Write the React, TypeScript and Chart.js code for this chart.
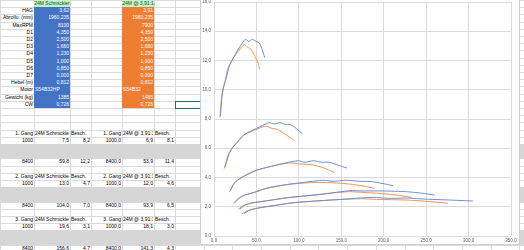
import React, { useEffect, useRef } from "react";
import { Chart, registerables } from "chart.js";

Chart.register(...registerables);

// ---------- chart data (speed km/h vs. acceleration) ----------
const blueG1Speed = [7.5, 9.4, 11.0, 14.0, 18.0, 22.0, 30.0, 37.0, 41.0, 45.0, 50.0, 53.5, 56.5, 59.8];
const blueG1Accel = [8.2, 9.5, 10.1, 10.7, 11.6, 12.1, 12.9, 13.45, 13.3, 13.45, 13.3, 13.2, 12.8, 12.2];
const orangeG1Speed = [6.9, 8.7, 10.2, 13.0, 16.6, 20.3, 28.0, 35.7, 39.7, 43.2, 48.3, 52.2, 53.9];
const orangeG1Accel = [8.1, 9.4, 10.0, 10.6, 11.5, 11.95, 12.6, 13.1, 12.9, 12.8, 12.25, 11.8, 11.4];

const blueG2Speed = [13.0, 15.5, 18.0, 22.7, 30.6, 36.5, 50.2, 64.8, 70.7, 77.7, 83.6, 90.3, 97.0, 104.0];
const blueG2Accel = [4.7, 5.2, 5.65, 6.1, 6.6, 6.97, 7.36, 7.75, 7.66, 7.75, 7.64, 7.61, 7.35, 7.0];
const orangeG2Speed = [12.0, 14.3, 16.6, 21.0, 28.3, 33.7, 46.4, 60.8, 67.8, 74.5, 85.5, 94.2];
const orangeG2Accel = [4.6, 5.1, 5.55, 6.0, 6.5, 6.85, 7.2, 7.52, 7.36, 7.3, 6.9, 6.55];

const blueG3Speed = [19.6, 22.5, 25.9, 34.5, 50.2, 69.8, 85.0, 99.3, 107.0, 117.0, 126.7, 136.5, 146.0, 156.6];
const blueG3Accel = [3.1, 3.45, 3.72, 4.06, 4.5, 4.8, 5.0, 5.15, 5.04, 5.15, 5.04, 5.04, 4.85, 4.65];
const orangeG3Speed = [18.1, 20.8, 24.0, 32.0, 46.5, 64.5, 78.5, 89.4, 101.0, 115.0, 128.6, 141.3];
const orangeG3Accel = [3.0, 3.35, 3.65, 4.0, 4.43, 4.72, 4.9, 5.0, 4.92, 4.88, 4.67, 4.35];

const blueG4Speed = [24.7, 30.0, 36.5, 50.2, 63.9, 89.4, 109.0, 128.6, 140.4, 156.0, 171.8, 185.5, 198.0, 211.0];
const blueG4Accel = [2.28, 2.6, 2.8, 3.03, 3.3, 3.55, 3.69, 3.81, 3.74, 3.81, 3.74, 3.72, 3.6, 3.44];
const orangeG4Speed = [22.8, 28.0, 33.7, 46.4, 59.0, 82.6, 100.8, 118.8, 140.0, 160.0, 175.6, 189.4];
const orangeG4Accel = [2.22, 2.55, 2.75, 2.97, 3.22, 3.48, 3.6, 3.66, 3.64, 3.55, 3.42, 3.26];

const blueG5Speed = [30.6, 36.0, 42.4, 62.0, 89.4, 128.6, 160.0, 175.6, 199.0, 226.7, 246.0, 260.0];
const blueG5Accel = [1.85, 2.08, 2.24, 2.41, 2.64, 2.87, 3.1, 3.08, 3.08, 3.03, 2.92, 2.8];
const orangeG5Speed = [28.2, 33.0, 39.0, 57.0, 82.4, 118.5, 147.0, 160.0, 191.6, 215.0, 232.6];
const orangeG5Accel = [1.8, 2.03, 2.19, 2.36, 2.58, 2.8, 2.98, 3.03, 2.92, 2.8, 2.64];

const blueG6Speed = [35.3, 42.0, 50.2, 69.8, 97.3, 148.0, 187.4, 207.0, 226.0, 246.0, 277.6, 305.0];
const blueG6Accel = [1.55, 1.75, 1.89, 2.07, 2.3, 2.5, 2.64, 2.57, 2.6, 2.53, 2.46, 2.39];
const orangeG6Speed = [32.5, 39.0, 46.3, 64.3, 89.6, 136.0, 172.5, 191.6, 226.7, 254.0, 275.8];
const orangeG6Accel = [1.5, 1.72, 1.85, 2.03, 2.25, 2.45, 2.55, 2.5, 2.46, 2.35, 2.24];

const blueSeries = [
  [blueG1Speed, blueG1Accel], [blueG2Speed, blueG2Accel], [blueG3Speed, blueG3Accel],
  [blueG4Speed, blueG4Accel], [blueG5Speed, blueG5Accel], [blueG6Speed, blueG6Accel],
];
const orangeSeries = [
  [orangeG1Speed, orangeG1Accel], [orangeG2Speed, orangeG2Accel], [orangeG3Speed, orangeG3Accel],
  [orangeG4Speed, orangeG4Accel], [orangeG5Speed, orangeG5Accel], [orangeG6Speed, orangeG6Accel],
];

const xMin = 0, xMax = 350, xStep = 50;
const yMin = 0, yMax = 16, yStep = 2;

// ---------- spreadsheet text ----------
const paramLabels = ["HAG", "Abrollu. (mm)", "MaxRPM", "D1", "D2", "D3", "D4", "D5", "D6", "D7", "Hebel (m)", "Motor", "Gewicht (kg)", "CW"];
const schmicklerValues = ["3,62", "1960,235", "8100", "4,350", "2,500", "1,660", "1,230", "1,000", "0,850", "0,000", "0,812", "S54B32HP", "1385", "0,726"];
const stockValues = ["3,91", "1960,235", "7900", "4,350", "2,500", "1,660", "1,230", "1,000", "0,850", "0,000", "0,812", "S54B32", "1485", "0,726"];
const nameA = "24M Schmickler";
const nameB = "24M @ 3,91:1";
const gangLabels = ["1. Gang", "2. Gang", "3. Gang"];
const rpmLow = ["1000", "1000", "1000"];
const rpmHigh = ["8400", "8400", "8400"];
const schmicklerLowSpeed = ["7,5", "13,0", "19,6"];
const schmicklerLowAccel = ["8,2", "4,7", "3,1"];
const schmicklerHighSpeed = ["59,8", "104,0", "156,6"];
const schmicklerHighAccel = ["12,2", "7,0", "4,7"];
const stockLowSpeed = ["6,9", "12,0", "18,1"];
const stockLowAccel = ["8,1", "4,6", "3,0"];
const stockHighSpeed = ["53,9", "93,9", "141,3"];
const stockHighAccel = ["11,4", "6,5", "4,3"];

// ---------- layout ----------
const COLS = [0, 34, 70, 91, 122, 154, 175, 203.7, 232.4, 261, 289.7, 318.4, 347, 375.8, 404.5, 433, 462, 490.6, 519.3, 548];
const RH = 7.2;
const NROWS = 36;
const GRID = "#dadada";
const FONT = "'Liberation Sans', Arial, sans-serif";

type Cell = { r: number; c: number; text: string; align?: "left" | "right" | "center"; color?: string; clip?: boolean };

function buildCells(): Cell[] {
  const cells: Cell[] = [];
  cells.push({ r: 0, c: 1, text: nameA, align: "center", color: "#006100" });
  cells.push({ r: 0, c: 4, text: nameB, align: "center", color: "#006100" });
  paramLabels.forEach((t, i) => {
    cells.push({ r: i + 1, c: 0, text: t, align: "right" });
    const motor = t === "Motor";
    cells.push({ r: i + 1, c: 1, text: schmicklerValues[i], align: motor ? "left" : "right", color: "#fff" });
    cells.push({ r: i + 1, c: 4, text: stockValues[i], align: motor ? "left" : "right", color: "#fff" });
  });
  gangLabels.forEach((g, k) => {
    const r0 = 18 + k * 6;
    cells.push({ r: r0, c: 0, text: g, align: "right" });
    cells.push({ r: r0, c: 1, text: nameA + " : Besch.", align: "left", clip: true });
    cells.push({ r: r0, c: 2, text: "Besch.", align: "left" });
    cells.push({ r: r0, c: 3, text: g, align: "right" });
    cells.push({ r: r0, c: 4, text: nameB, align: "left", clip: true });
    cells.push({ r: r0, c: 5, text: "Besch.", align: "left" });
    cells.push({ r: r0 + 1, c: 0, text: rpmLow[k], align: "right" });
    cells.push({ r: r0 + 1, c: 1, text: schmicklerLowSpeed[k], align: "right" });
    cells.push({ r: r0 + 1, c: 2, text: schmicklerLowAccel[k], align: "right" });
    cells.push({ r: r0 + 1, c: 3, text: rpmLow[k] + ",0", align: "right" });
    cells.push({ r: r0 + 1, c: 4, text: stockLowSpeed[k], align: "right" });
    cells.push({ r: r0 + 1, c: 5, text: stockLowAccel[k], align: "right" });
    cells.push({ r: r0 + 4, c: 0, text: rpmHigh[k], align: "right" });
    cells.push({ r: r0 + 4, c: 1, text: schmicklerHighSpeed[k], align: "right" });
    cells.push({ r: r0 + 4, c: 2, text: schmicklerHighAccel[k], align: "right" });
    cells.push({ r: r0 + 4, c: 3, text: rpmHigh[k] + ",0", align: "right" });
    cells.push({ r: r0 + 4, c: 4, text: stockHighSpeed[k], align: "right" });
    cells.push({ r: r0 + 4, c: 5, text: stockHighAccel[k], align: "right" });
  });
  return cells;
}

const fmt = (v: any) => Number(v).toFixed(1).replace(".", ",");

function Sheet() {
  const els: React.ReactNode[] = [];
  COLS.forEach((x, i) =>
    els.push(<div key={"v" + i} style={{ position: "absolute", left: Math.round(x), top: 0, width: 1, height: 260, background: GRID }} />)
  );
  for (let r = 0; r <= NROWS; r++) {
    els.push(<div key={"h" + r} style={{ position: "absolute", left: 0, top: Math.round(r * RH), width: 560, height: 1, background: GRID }} />);
  }
  const fill = (key: string, c0: number, c1: number, r0: number, r1: number, bg: string) =>
    els.push(
      <div key={key} style={{ position: "absolute", left: Math.round(COLS[c0]), top: Math.round(r0 * RH), width: Math.round(COLS[c1]) - Math.round(COLS[c0]), height: Math.round(r1 * RH) - Math.round(r0 * RH), background: bg }} />
    );
  fill("hg1", 1, 2, 0, 1, "#c6efce");
  fill("hg2", 4, 5, 0, 1, "#c6efce");
  fill("blue", 1, 2, 1, 15, "#4472c4");
  fill("orange", 4, 5, 1, 15, "#ed7d31");
  [20, 26, 32].forEach((r) =>
    els.push(<div key={"g" + r} style={{ position: "absolute", left: 0, top: Math.round(r * RH), width: 560, height: Math.round((r + 2) * RH) - Math.round(r * RH), background: "#d6d6d6" }} />)
  );
  els.push(
    <div key="sel" style={{ position: "absolute", left: Math.round(COLS[6]), top: Math.round(14 * RH), width: Math.round(COLS[7]) - Math.round(COLS[6]) - 1, height: Math.round(15 * RH) - Math.round(14 * RH) - 1, border: "1px solid #217346", boxSizing: "content-box" }} />
  );
  buildCells().forEach((cell, i) => {
    const left = COLS[cell.c];
    const w = COLS[cell.c + 1] - left;
    els.push(
      <div
        key={"t" + i}
        style={{
          position: "absolute",
          left: left + 1,
          top: cell.r * RH,
          width: w - 2,
          height: RH,
          lineHeight: RH + "px",
          fontSize: 5,
          fontFamily: FONT,
          color: cell.color || "#000",
          whiteSpace: "nowrap",
          overflow: cell.clip ? "hidden" : "visible",
          display: "flex",
          justifyContent: cell.align === "right" ? "flex-end" : cell.align === "center" ? "center" : "flex-start",
        }}
      >
        <span>{cell.text}</span>
      </div>
    );
  });
  return <>{els}</>;
}

function AccelChart() {
  const ref = useRef<HTMLCanvasElement>(null);
  useEffect(() => {
    if (!ref.current) return;
    const mk = (series: number[][][], color: string, name: string) =>
      series.map(([xs, ys], i) => ({
        label: `${name} ${i + 1}. Gang`,
        data: xs.map((x, j) => ({ x, y: ys[j] })),
        showLine: true,
        borderColor: color,
        backgroundColor: color,
        borderWidth: 1,
        pointRadius: 0,
        tension: 0.2,
        fill: false,
      }));
    const tickFont = { size: 4.5, family: FONT };
    const chart = new Chart(ref.current, {
      type: "scatter",
      data: { datasets: [...mk(blueSeries, "#6b8dd4", nameA), ...mk(orangeSeries, "#f09252", nameB)] as any },
      options: {
        animation: false,
        responsive: false,
        maintainAspectRatio: false,
        layout: { padding: { top: 12, right: 9, bottom: 0, left: 0 } },
        plugins: { legend: { display: false }, tooltip: { enabled: false } },
        scales: {
          x: {
            type: "linear",
            min: xMin,
            max: xMax,
            ticks: { stepSize: xStep, callback: fmt, font: tickFont, color: "#595959", padding: 2, maxRotation: 0, autoSkip: false },
            grid: { color: GRID, drawTicks: false },
            border: { display: false },
            afterFit: (s: any) => { s.height = 9; },
          },
          y: {
            type: "linear",
            min: yMin,
            max: yMax,
            ticks: { stepSize: yStep, callback: fmt, font: tickFont, color: "#595959", padding: 3, autoSkip: false },
            grid: { color: GRID, drawTicks: false },
            border: { display: false },
            afterFit: (s: any) => { s.width = 14; },
          },
        },
      } as any,
    });
    return () => chart.destroy();
  }, []);
  return (
    <>
      <div style={{ position: "absolute", left: 200, top: -11, width: 320, height: 256, background: "#fff", border: "1px solid #cfcfcf", boxSizing: "border-box" }} />
      <canvas ref={ref} width={320} height={255} style={{ position: "absolute", left: 200, top: -10, width: 320, height: 255 }} />
    </>
  );
}

export default function App() {
  useEffect(() => {
    document.body.style.margin = "0";
  }, []);
  return (
    <div style={{ position: "fixed", left: 0, top: 0, width: 524, height: 250, overflow: "hidden", background: "#fff" }}>
      <Sheet />
      <AccelChart />
    </div>
  );
}
